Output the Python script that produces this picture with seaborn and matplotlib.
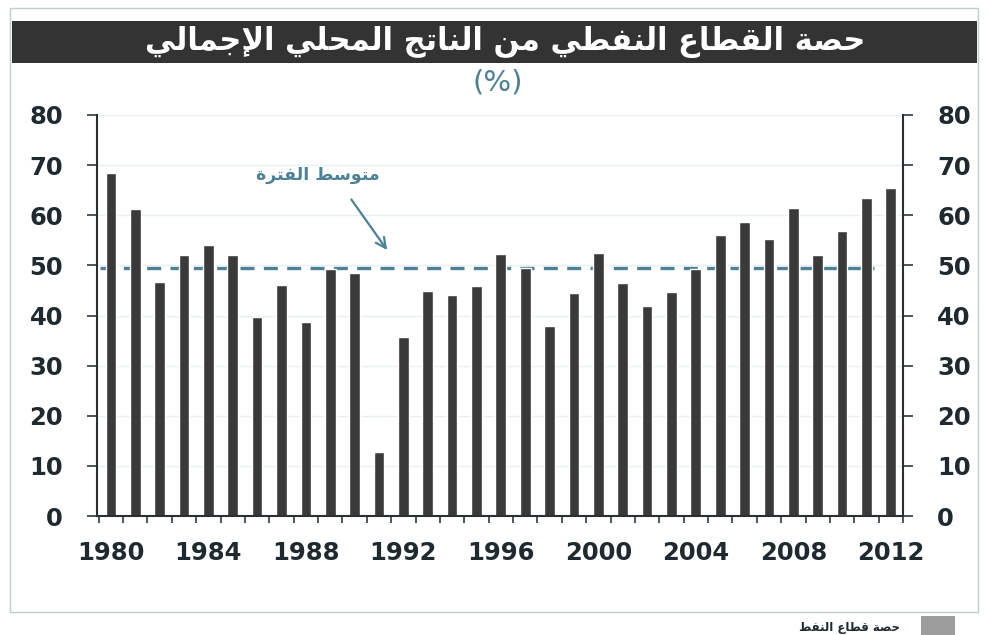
import numpy as np
import pandas as pd
import matplotlib
matplotlib.use("Agg")
import matplotlib.pyplot as plt
from matplotlib.patches import Rectangle
import seaborn as sns

# ---- data ----
years = [str(y) for y in range(1980, 2013)]
oil_share = [68.5, 61.2, 46.6, 52.1, 54.0, 52.1, 39.7, 46.0, 38.8, 49.3,
             48.4, 12.8, 35.8, 44.9, 44.0, 45.8, 52.3, 49.4, 37.9, 44.5,
             52.4, 46.4, 41.8, 44.6, 49.2, 56.1, 58.7, 55.2, 61.5, 52.0,
             56.9, 63.5, 65.4]
period_avg = 49.5
y_ticks = list(range(0, 81, 10))

title_txt = "حصة القطاع النفطي من الناتج المحلي الإجمالي"
unit_txt = "(%)"
avg_txt = "متوسط الفترة"
legend_txt = "حصة قطاع النفط"

# ---- minimal Arabic shaping (presentation forms + visual order) ----
# isolated, final, initial, medial
FORMS = {
    'ا': ('\uFE8D', '\uFE8E', None, None),
    'إ': ('\uFE87', '\uFE88', None, None),
    'ة': ('\uFE93', '\uFE94', None, None),
    'ت': ('\uFE95', '\uFE96', '\uFE97', '\uFE98'),
    'ج': ('\uFE9D', '\uFE9E', '\uFE9F', '\uFEA0'),
    'ح': ('\uFEA1', '\uFEA2', '\uFEA3', '\uFEA4'),
    'ر': ('\uFEAD', '\uFEAE', None, None),
    'س': ('\uFEB1', '\uFEB2', '\uFEB3', '\uFEB4'),
    'ص': ('\uFEB9', '\uFEBA', '\uFEBB', '\uFEBC'),
    'ط': ('\uFEC1', '\uFEC2', '\uFEC3', '\uFEC4'),
    'ع': ('\uFEC9', '\uFECA', '\uFECB', '\uFECC'),
    'ف': ('\uFED1', '\uFED2', '\uFED3', '\uFED4'),
    'ق': ('\uFED5', '\uFED6', '\uFED7', '\uFED8'),
    'ل': ('\uFEDD', '\uFEDE', '\uFEDF', '\uFEE0'),
    'م': ('\uFEE1', '\uFEE2', '\uFEE3', '\uFEE4'),
    'ن': ('\uFEE5', '\uFEE6', '\uFEE7', '\uFEE8'),
    'و': ('\uFEED', '\uFEEE', None, None),
    'ي': ('\uFEF1', '\uFEF2', '\uFEF3', '\uFEF4'),
}
LAM_ALEF = {'ا': ('\uFEFB', '\uFEFC'), 'إ': ('\uFEF9', '\uFEFA')}


def joins_next(c):
    return c in FORMS and FORMS[c][2] is not None


def shape(text):
    out, i, n = [], 0, len(text)
    while i < n:
        c = text[i]
        if c not in FORMS:
            out.append(c)
            i += 1
            continue
        link_prev = i > 0 and joins_next(text[i - 1])
        if c == 'ل' and i + 1 < n and text[i + 1] in LAM_ALEF:
            iso, fin = LAM_ALEF[text[i + 1]]
            out.append(fin if link_prev else iso)
            i += 2
            continue
        link_next = joins_next(c) and i + 1 < n and text[i + 1] in FORMS
        iso, fin, ini, med = FORMS[c]
        if link_prev and link_next:
            out.append(med)
        elif link_prev:
            out.append(fin)
        elif link_next:
            out.append(ini)
        else:
            out.append(iso)
        i += 1
    return ''.join(reversed(out))


# ---- style ----
sns.set_theme(style="white")
plt.rcParams['font.family'] = ['DejaVu Sans']

bar_col = '#3a3a3a'
teal = '#4d8196'
ink = '#1f2a30'

fig = plt.figure(figsize=(9.92, 6.35), dpi=100)
ax = fig.add_axes([97 / 992, 1 - 516 / 635, (903 - 97) / 992, (516 - 115) / 635])

df = pd.DataFrame({'year': years, 'share': oil_share})

# faint horizontal guides
for v in y_ticks[1:]:
    ax.axhline(v, color='#e9f0f3', lw=1, zorder=0)

# period average (dashed)
ax.hlines(period_avg, -0.44, 31.3, colors=teal, lw=2.4,
          linestyles=(0, (4.2, 2.8)), zorder=1)

sns.barplot(data=df, x='year', y='share', color=bar_col, saturation=1,
            width=0.44, errorbar=None, ax=ax, zorder=2)

ax.set_xlim(-0.57, 32.45)
ax.set_ylim(0, 80)
ax.set_yticks(y_ticks)
ax.set_xticks(range(0, len(years), 4))
ax.set_xticklabels(years[::4])
ax.set_xticks(np.arange(-0.5, len(years), 1), minor=True)
ax.set_xlabel('')
ax.set_ylabel('')

ax.tick_params(axis='y', left=True, right=True, labelleft=True, labelright=True,
               direction='out', length=7.5, width=1.2, color='#2f3b40',
               labelsize=17.5, labelcolor=ink, pad=17)
ax.tick_params(axis='x', which='major', bottom=True, length=0, pad=18,
               labelsize=17.5, labelcolor=ink)
ax.tick_params(axis='x', which='minor', bottom=True, direction='out',
               length=5, width=1.2, color='#2f3b40')
for lab in ax.get_xticklabels() + ax.get_yticklabels():
    lab.set_fontweight('bold')
for lab in ax.yaxis.get_ticklabels(which='both'):
    lab.set_fontweight('bold')
for t in ax.yaxis.get_major_ticks():
    t.label2.set_fontweight('bold')

for side in ['left', 'right', 'bottom']:
    ax.spines[side].set_visible(True)
    ax.spines[side].set_color('#2b2f31')
    ax.spines[side].set_linewidth(1.5)
ax.spines['top'].set_visible(False)

# annotation for the average line
ax.text(8.5, 68.0, shape(avg_txt), color=teal, fontsize=12.5,
        fontweight='bold', ha='center', va='center')
ax.annotate('', xy=(11.4, 52.6), xytext=(9.8, 63.6),
            arrowprops=dict(arrowstyle='->', color=teal, lw=1.6,
                            mutation_scale=18))

# outer frame
fig.patches.append(Rectangle((10 / 992, 1 - 612 / 635), 968 / 992, 604 / 635,
                             transform=fig.transFigure, fill=False,
                             ec='#c3ccd1', lw=1))
# title bar
fig.patches.append(Rectangle((12 / 992, 1 - 63 / 635), 965 / 992, 42 / 635,
                             transform=fig.transFigure, fc='#333333', ec='none'))
fig.text(0.509, 1 - 42 / 635, shape(title_txt), color='white', fontsize=22,
         fontweight='bold', ha='center', va='center')
fig.text(0.502, 1 - 83 / 635, unit_txt, color=teal, fontsize=21,
         ha='center', va='center')

# legend below the frame
fig.patches.append(Rectangle((921 / 992, 0), 34 / 992, 19 / 635,
                             transform=fig.transFigure, fc='#9c9c9c', ec='none'))
fig.text(900 / 992, 1 - 627 / 635, shape(legend_txt), color=ink, fontsize=8.5,
         fontweight='bold', ha='right', va='center')

fig.savefig('out.png', dpi=100)
